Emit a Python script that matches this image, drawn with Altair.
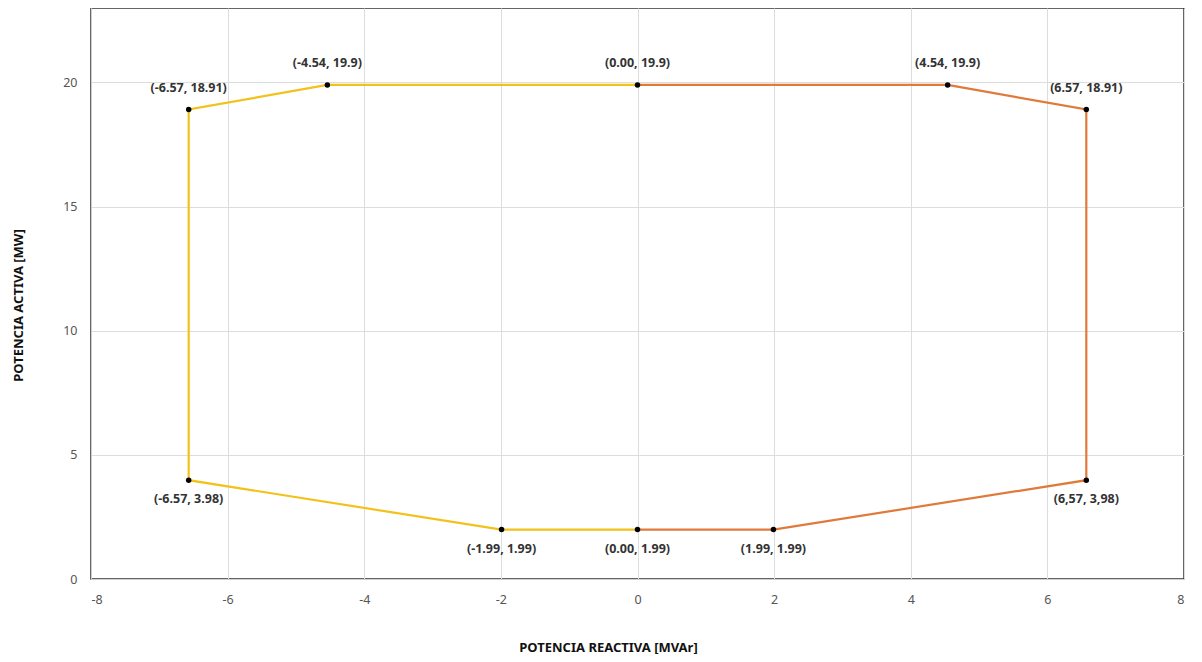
import altair as alt
import pandas as pd

# Yellow (capacitive side) and orange (inductive side) boundary paths
yellow_q = [0.00, -4.54, -6.57, -6.57, -1.99, 0.00]
yellow_p = [19.9, 19.9, 18.91, 3.98, 1.99, 1.99]
orange_q = [0.00, 4.54, 6.57, 6.57, 1.99, 0.00]
orange_p = [19.9, 19.9, 18.91, 3.98, 1.99, 1.99]

# Labelled points
pt_q = [-6.57, -4.54, 0.00, 4.54, 6.57, -6.57, -1.99, 0.00, 1.99, 6.57]
pt_p = [18.91, 19.9, 19.9, 19.9, 18.91, 3.98, 1.99, 1.99, 1.99, 3.98]
pt_label = ["(-6.57, 18.91)", "(-4.54, 19.9)", "(0.00, 19.9)", "(4.54, 19.9)", "(6.57, 18.91)",
            "(-6.57, 3.98)", "(-1.99, 1.99)", "(0.00, 1.99)", "(1.99, 1.99)", "(6,57, 3,98)"]
pt_side = ["above"] * 5 + ["below"] * 5

rows = []
for i, (q, p) in enumerate(zip(yellow_q, yellow_p)):
    rows.append({"q": q, "p": p, "serie": "A", "ord": i})
for i, (q, p) in enumerate(zip(orange_q, orange_p)):
    rows.append({"q": q, "p": p, "serie": "B", "ord": i})
lines_df = pd.DataFrame(rows)
pts_df = pd.DataFrame({"q": pt_q, "p": pt_p, "label": pt_label, "side": pt_side})

xs = alt.Scale(domain=[-8, 8], nice=False, zero=False)
ys = alt.Scale(domain=[0, 23], nice=False, zero=False)

xaxis = alt.Axis(title="POTENCIA REACTIVA [MVAr]", values=list(range(-8, 9, 2)),
                 labelExpr="datum.value + ''",
                 grid=True, gridColor="#dddddd", ticks=False, domainColor="#cfcfcf",
                 labelColor="#555555", labelFontSize=12.5, labelPadding=14,
                 titleFontSize=13, titleFontWeight="bold", titleColor="#111111",
                 titleX=517, titleY=68, titleBaseline="middle")
yaxis = alt.Axis(title="POTENCIA ACTIVA [MW]", values=[0, 5, 10, 15, 20],
                 labelExpr="datum.value + ''",
                 grid=True, gridColor="#dddddd", ticks=False, domainColor="#cfcfcf",
                 labelColor="#555555", labelFontSize=12.5, labelPadding=14,
                 titleFontSize=13, titleFontWeight="bold", titleColor="#111111",
                 titleX=-73, titleY=297, titleBaseline="middle")

lines = alt.Chart(lines_df).mark_line(strokeWidth=2.2).encode(
    x=alt.X("q:Q", scale=xs, axis=xaxis),
    y=alt.Y("p:Q", scale=ys, axis=yaxis),
    color=alt.Color("serie:N", scale=alt.Scale(domain=["A", "B"], range=["#F2C21B", "#E07A3A"]), legend=None),
    order="ord:Q",
    detail="serie:N",
)

points = alt.Chart(pts_df).mark_circle(size=30, color="black", opacity=1).encode(
    x=alt.X("q:Q", scale=xs), y=alt.Y("p:Q", scale=ys)
)

above = alt.Chart(pts_df).transform_filter(alt.datum.side == "above").mark_text(
    dy=-22, fontSize=12.5, fontWeight="bold", color="#333333", font="Noto Sans"
).encode(x=alt.X("q:Q", scale=xs), y=alt.Y("p:Q", scale=ys), text="label:N")

below = alt.Chart(pts_df).transform_filter(alt.datum.side == "below").mark_text(
    dy=19, fontSize=12.5, fontWeight="bold", color="#333333", font="Noto Sans"
).encode(x=alt.X("q:Q", scale=xs), y=alt.Y("p:Q", scale=ys), text="label:N")

chart = alt.layer(lines, points, above, below).properties(
    width=1093, height=571,
    autosize=alt.AutoSizeParams(type="none"),
    padding={"left": 83, "top": 0, "right": 10, "bottom": 75},
).configure_view(stroke="#333333", strokeWidth=1.5).configure_axis(
    labelFont="Noto Sans", titleFont="Noto Sans"
)

chart.save("out.html", embed_options={"renderer": "svg", "actions": False})
